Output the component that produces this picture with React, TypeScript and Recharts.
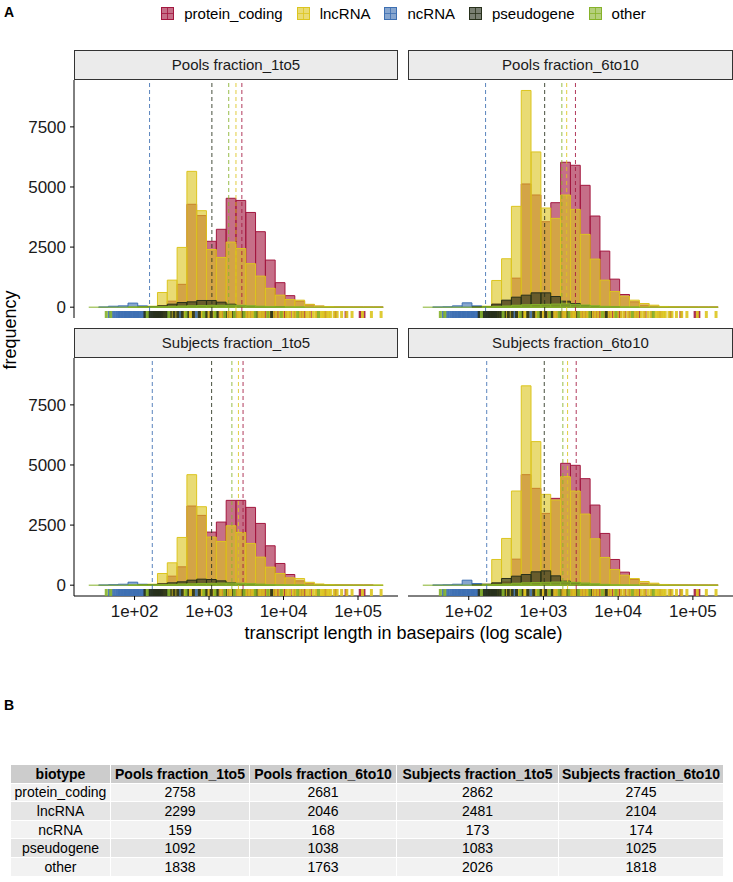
import React from 'react'
import { ComposedChart, Bar, XAxis, YAxis, ReferenceLine, Scatter } from 'recharts'

const FONT = '"Liberation Sans", Arial, Helvetica, sans-serif'

const BIOTYPES = ['protein_coding', 'lncRNA', 'ncRNA', 'pseudogene', 'other']
const COLORS = ['#A3173F', '#DCC51F', '#3D6FB2', '#27301B', '#86B22A']
const PANELS = ['Pools fraction_1to5', 'Pools fraction_6to10', 'Subjects fraction_1to5', 'Subjects fraction_6to10']

// histogram bin mids, log10 of transcript length (30 bins)
const BIN_MIDS = [
  1.4509, 1.5827, 1.7145, 1.8463, 1.9781, 2.1099, 2.2417, 2.3735, 2.5053, 2.6371,
  2.7689, 2.9007, 3.0325, 3.1643, 3.2961, 3.4279, 3.5597, 3.6915, 3.8233, 3.9551,
  4.0869, 4.2187, 4.3505, 4.4823, 4.6141, 4.7459, 4.8777, 5.0095, 5.1413, 5.2731,
]

// counts per bin
const PC_P15 = [0, 0, 0, 0, 0, 0, 10, 60, 250, 950, 4280, 3810, 2740, 3240, 4530, 4440, 3940, 3140, 1960, 1020, 480, 250, 100, 40, 15, 8, 4, 2, 1, 1]
const LNC_P15 = [0, 0, 0, 0, 0, 5, 40, 611, 1125, 2486, 5650, 4014, 2400, 2069, 2708, 2440, 1810, 1292, 785, 500, 320, 292, 120, 50, 25, 10, 5, 3, 1, 1]
const NC_P15 = [0, 5, 40, 55, 170, 55, 20, 8, 5, 3, 2, 1, 0, 0, 0, 0, 0, 0, 0, 0, 0, 0, 0, 0, 0, 0, 0, 0, 0, 0]
const PS_P15 = [0, 0, 0, 0, 0, 5, 20, 56, 125, 194, 222, 278, 278, 208, 125, 70, 30, 12, 5, 2, 0, 0, 0, 0, 0, 0, 0, 0, 0, 0]
const OT_P15 = [0, 0, 0, 0, 3, 5, 10, 20, 35, 50, 60, 70, 75, 80, 85, 75, 60, 40, 25, 12, 6, 3, 0, 0, 0, 0, 0, 0, 0, 0]

const PC_P610 = [0, 0, 0, 0, 0, 0, 15, 125, 264, 1208, 5125, 4667, 3556, 4347, 6028, 5903, 5069, 3792, 2333, 1167, 528, 222, 83, 40, 20, 8, 4, 2, 1, 1]
const LNC_P610 = [0, 0, 0, 0, 0, 10, 40, 1111, 2014, 4194, 9014, 6458, 4125, 3694, 4667, 4069, 3028, 2000, 1125, 653, 458, 292, 153, 83, 30, 12, 5, 3, 1, 1]
const NC_P610 = [0, 5, 15, 55, 181, 55, 28, 10, 5, 3, 1, 0, 0, 0, 0, 0, 0, 0, 0, 0, 0, 0, 0, 0, 0, 0, 0, 0, 0, 0]
const PS_P610 = [0, 0, 0, 0, 0, 8, 25, 125, 292, 417, 500, 597, 597, 444, 250, 153, 69, 30, 10, 4, 0, 0, 0, 0, 0, 0, 0, 0, 0, 0]
const OT_P610 = [0, 0, 0, 0, 0, 0, 15, 30, 50, 80, 100, 110, 120, 130, 140, 120, 90, 60, 35, 15, 8, 3, 0, 0, 0, 0, 0, 0, 0, 0]

const PC_S15 = [0, 0, 0, 0, 0, 0, 10, 60, 375, 764, 3292, 2903, 2208, 2625, 3528, 3528, 3236, 2569, 1639, 903, 444, 181, 60, 25, 10, 5, 3, 1, 1, 0]
const LNC_S15 = [0, 0, 0, 0, 0, 5, 40, 486, 931, 1986, 4597, 3264, 2000, 1819, 2472, 2194, 1736, 1167, 750, 486, 306, 278, 120, 50, 25, 10, 5, 3, 1, 1]
const NC_S15 = [0, 5, 20, 40, 125, 40, 20, 8, 4, 2, 0, 0, 0, 0, 0, 0, 0, 0, 0, 0, 0, 0, 0, 0, 0, 0, 0, 0, 0, 0]
const PS_S15 = [0, 0, 0, 0, 0, 5, 20, 55, 97, 139, 208, 250, 236, 180, 97, 40, 20, 8, 3, 0, 0, 0, 0, 0, 0, 0, 0, 0, 0, 0]
const OT_S15 = [0, 0, 0, 0, 3, 5, 10, 20, 35, 50, 60, 70, 75, 85, 90, 80, 65, 45, 25, 12, 6, 3, 0, 0, 0, 0, 0, 0, 0, 0]

const PC_S610 = [0, 0, 0, 0, 0, 0, 15, 80, 130, 1083, 4597, 4028, 2986, 3611, 5069, 4986, 4431, 3333, 2153, 1069, 542, 240, 80, 40, 20, 8, 4, 2, 1, 1]
const LNC_S610 = [0, 0, 0, 0, 0, 10, 40, 1069, 1944, 3917, 8292, 5972, 3778, 3542, 4514, 3917, 2958, 1931, 1153, 653, 417, 278, 153, 83, 30, 12, 5, 3, 1, 1]
const NC_S610 = [0, 5, 15, 40, 208, 69, 20, 8, 4, 2, 0, 0, 0, 0, 0, 0, 0, 0, 0, 0, 0, 0, 0, 0, 0, 0, 0, 0, 0, 0]
const PS_S610 = [0, 0, 0, 0, 0, 8, 40, 97, 278, 375, 444, 556, 597, 389, 167, 97, 40, 15, 5, 0, 0, 0, 0, 0, 0, 0, 0, 0, 0, 0]
const OT_S610 = [0, 0, 0, 0, 0, 0, 15, 30, 50, 80, 100, 110, 120, 130, 140, 120, 90, 60, 35, 15, 8, 3, 0, 0, 0, 0, 0, 0, 0, 0]

// median lengths (table B), one per panel
const MEDIAN_PROTEIN_CODING = [2758, 2681, 2862, 2745]
const MEDIAN_LNCRNA = [2299, 2046, 2481, 2104]
const MEDIAN_NCRNA = [159, 168, 173, 174]
const MEDIAN_PSEUDOGENE = [1092, 1038, 1083, 1025]
const MEDIAN_OTHER = [1838, 1763, 2026, 1818]

// rug ticks, log10 length
const RUG_PROTEIN_CODING = [2.49, 2.58, 2.63, 2.66, 2.71, 2.74, 2.79, 2.83, 2.87, 2.9, 2.94, 2.97, 3.01, 3.03, 3.05, 3.08, 3.11, 3.14, 3.16, 3.18, 3.22, 3.24, 3.26, 3.29, 3.31, 3.33, 3.37, 3.4, 3.42, 3.44, 3.48, 3.5, 3.52, 3.56, 3.59, 3.61, 3.63, 3.67, 3.71, 3.73, 3.76, 3.8, 3.84, 3.87, 3.89, 3.93, 3.98, 4.01, 4.03, 4.09, 4.15, 4.21, 4.25, 4.28, 4.36, 4.45, 4.56, 4.7, 4.84, 5.03, 5.08]
const RUG_LNCRNA = [2.28, 2.32, 2.35, 2.37, 2.4, 2.43, 2.45, 2.47, 2.5, 2.52, 2.55, 2.57, 2.59, 2.62, 2.64, 2.67, 2.69, 2.7, 2.73, 2.76, 2.78, 2.81, 2.84, 2.86, 2.88, 2.91, 2.94, 2.96, 2.99, 3.03, 3.07, 3.09, 3.12, 3.16, 3.2, 3.24, 3.28, 3.31, 3.35, 3.39, 3.42, 3.46, 3.5, 3.54, 3.58, 3.61, 3.65, 3.69, 3.73, 3.78, 3.82, 3.86, 3.9, 3.95, 3.99, 4.04, 4.08, 4.13, 4.17, 4.22, 4.26, 4.31, 4.35, 4.4, 4.44, 4.49, 4.52, 4.54, 4.58, 4.61, 4.63, 4.68, 4.72, 4.78, 4.85, 4.92, 5.06, 5.18, 5.31]
const RUG_NCRNA = [1.66, 1.71, 1.74, 1.77, 1.79, 1.81, 1.83, 1.85, 1.87, 1.88, 1.9, 1.92, 1.93, 1.95, 1.97, 1.99, 2.0, 2.02, 2.04, 2.05, 2.07, 2.09, 2.11, 2.13, 2.16, 2.19, 2.23, 2.27, 2.34, 2.45, 2.61, 2.83]
const RUG_PSEUDOGENE = [2.14, 2.19, 2.22, 2.25, 2.27, 2.29, 2.31, 2.32, 2.34, 2.36, 2.38, 2.41, 2.44, 2.48, 2.53, 2.58, 2.64, 2.71, 2.79, 2.87, 2.96, 3.03, 3.11, 3.22, 3.33, 3.46, 3.63, 3.84]
const RUG_OTHER = [1.62, 1.68, 2.17, 2.46, 2.69, 2.93, 3.08, 3.21, 3.34, 3.47, 3.62, 3.79, 3.97, 4.19, 4.47]

const COUNTS = [
  [PC_P15, LNC_P15, NC_P15, PS_P15, OT_P15],
  [PC_P610, LNC_P610, NC_P610, PS_P610, OT_P610],
  [PC_S15, LNC_S15, NC_S15, PS_S15, OT_S15],
  [PC_S610, LNC_S610, NC_S610, PS_S610, OT_S610],
]
const MEDIANS = [MEDIAN_PROTEIN_CODING, MEDIAN_LNCRNA, MEDIAN_NCRNA, MEDIAN_PSEUDOGENE, MEDIAN_OTHER]
const RUGS = [RUG_PROTEIN_CODING, RUG_LNCRNA, RUG_NCRNA, RUG_PSEUDOGENE, RUG_OTHER]

const X_MIN = 1.187
const X_MAX = 5.537
const X_TICKS = [2, 3, 4, 5]
const Y_MIN = -450
const Y_MAX = 9450
const Y_TICKS = [0, 2500, 5000, 7500]

const PLOT_H = 238
const Y_AXIS_W = 74
const X_AXIS_H = 34
const RUG_LEN = 7
const FILL_OPACITY = 0.62

const fmtLog = (v: number) => `1e+${String(v).padStart(2, '0')}`

interface PanelProps {
  index: number
  left: number
  top: number
  plotW: number
  showX: boolean
  showY: boolean
}

function Panel({ index, left, top, plotW, showX, showY }: PanelProps) {
  const rows = BIN_MIDS.map((x, i) => {
    const row: Record<string, number> = { x }
    BIOTYPES.forEach((b, j) => {
      row[b] = COUNTS[index][j][i]
    })
    return row
  })
  const binW = BIN_MIDS[1] - BIN_MIDS[0]
  const barSize = (plotW * binW) / (X_MAX - X_MIN) - 0.1
  const tickStyle = { fill: '#1a1a1a', fontSize: 17, fontFamily: FONT }

  return (
    <div style={{ position: 'absolute', left, top }}>
      <ComposedChart
        width={plotW + (showY ? Y_AXIS_W : 0)}
        height={PLOT_H + (showX ? X_AXIS_H : 0)}
        data={rows}
        margin={{ top: 0, right: 0, bottom: 0, left: 0 }}
        barCategoryGap={0}
        barGap={0}
      >
        <XAxis
          xAxisId="main"
          type="number"
          dataKey="x"
          domain={[X_MIN, X_MAX]}
          allowDataOverflow
          ticks={X_TICKS}
          interval={0}
          tickFormatter={fmtLog}
          hide={!showX}
          height={X_AXIS_H}
          stroke="#000"
          tickSize={4}
          tickMargin={5}
          tick={tickStyle}
        />
        {BIOTYPES.map((b) => (
          <XAxis key={b} xAxisId={b} type="number" dataKey="x" domain={[X_MIN, X_MAX]} allowDataOverflow height={0} hide />
        ))}
        <YAxis
          type="number"
          domain={[Y_MIN, Y_MAX]}
          allowDataOverflow
          ticks={Y_TICKS}
          interval={0}
          hide={!showY}
          width={Y_AXIS_W}
          stroke="#000"
          tickSize={4}
          tickMargin={4}
          tick={tickStyle}
        />
        {BIOTYPES.map((b, j) => (
          <Bar
            key={b}
            xAxisId={b}
            dataKey={b}
            barSize={barSize}
            fill={COLORS[j]}
            fillOpacity={FILL_OPACITY}
            stroke={COLORS[j]}
            strokeWidth={1}
            isAnimationActive={false}
          />
        ))}
        <ReferenceLine
          xAxisId="main"
          segment={[
            { x: BIN_MIDS[0] - binW / 2, y: 0 },
            { x: BIN_MIDS[BIN_MIDS.length - 1] + binW / 2, y: 0 },
          ]}
          stroke={COLORS[4]}
          strokeWidth={1}
        />
        {MEDIANS.map((m, j) => (
          <ReferenceLine
            key={BIOTYPES[j]}
            xAxisId="main"
            x={Math.log10(m[index])}
            stroke={COLORS[j]}
            strokeOpacity={0.85}
            strokeWidth={1}
            strokeDasharray="4 3"
          />
        ))}
        {RUGS.map((r, j) => (
          <Scatter
            key={BIOTYPES[j]}
            xAxisId="main"
            data={r.map((x) => ({ x, y: Y_MIN }))}
            dataKey="y"
            isAnimationActive={false}
            shape={(p: any) => (
              <line
                x1={p.cx}
                x2={p.cx}
                y1={p.cy}
                y2={p.cy - RUG_LEN}
                stroke={COLORS[j]}
                strokeOpacity={0.9}
                strokeWidth={3}
              />
            )}
          />
        ))}
      </ComposedChart>
    </div>
  )
}

function Strip({ label, left, top, width }: { label: string; left: number; top: number; width: number }) {
  return (
    <div
      style={{
        position: 'absolute',
        left,
        top,
        width,
        height: 30,
        boxSizing: 'border-box',
        border: '1px solid #333',
        background: '#EBEBEB',
        textAlign: 'center',
        lineHeight: '28px',
        fontSize: 15,
        color: '#1a1a1a',
      }}
    >
      {label}
    </div>
  )
}

function LegendKey({ color }: { color: string }) {
  return (
    <svg width={13} height={13} style={{ display: 'block' }}>
      <rect x={0.5} y={0.5} width={12} height={12} fill={color} fillOpacity={FILL_OPACITY} stroke={color} />
      <line x1={6.5} x2={6.5} y1={0.5} y2={12.5} stroke={color} strokeWidth={0.8} />
      <line x1={0.5} x2={12.5} y1={6.5} y2={6.5} stroke={color} strokeWidth={0.8} />
    </svg>
  )
}

const TABLE_COLS = [100, 139, 147, 162, 165]

export default function App() {
  const tableRows = BIOTYPES.map((b, j) => [b, ...MEDIANS[j].map(String)])
  return (
    <div
      style={{
        position: 'absolute',
        left: 0,
        top: 0,
        width: 733,
        height: 882,
        background: '#fff',
        fontFamily: FONT,
        color: '#000',
        overflow: 'hidden',
      }}
    >
      <div style={{ position: 'absolute', left: 4, top: 4, fontWeight: 700, fontSize: 14 }}>A</div>

      <div
        style={{
          position: 'absolute',
          left: 74,
          top: 5,
          width: 659,
          display: 'flex',
          justifyContent: 'center',
          alignItems: 'center',
          fontSize: 15,
        }}
      >
        {BIOTYPES.map((b, j) => (
          <div key={b} style={{ display: 'flex', alignItems: 'center', marginRight: j < 4 ? 14 : 0 }}>
            <LegendKey color={COLORS[j]} />
            <span style={{ marginLeft: 10 }}>{b}</span>
          </div>
        ))}
      </div>

      <Strip label={PANELS[0]} left={74} top={50} width={324} />
      <Strip label={PANELS[1]} left={408} top={50} width={325} />
      <Strip label={PANELS[2]} left={74} top={328} width={324} />
      <Strip label={PANELS[3]} left={408} top={328} width={325} />

      <Panel index={0} left={0} top={80} plotW={324} showX={false} showY />
      <Panel index={1} left={408} top={80} plotW={325} showX={false} showY={false} />
      <Panel index={2} left={0} top={358} plotW={324} showX showY />
      <Panel index={3} left={408} top={358} plotW={325} showX showY={false} />

      <div
        style={{
          position: 'absolute',
          left: 10,
          top: 330,
          transform: 'translate(-50%, -50%) rotate(-90deg)',
          fontSize: 18,
          whiteSpace: 'nowrap',
        }}
      >
        frequency
      </div>
      <div style={{ position: 'absolute', left: 74, top: 623, width: 659, textAlign: 'center', fontSize: 18 }}>
        transcript length in basepairs (log scale)
      </div>

      <div style={{ position: 'absolute', left: 4, top: 697, fontWeight: 700, fontSize: 14 }}>B</div>

      <table
        style={{
          position: 'absolute',
          left: 10,
          top: 764,
          borderCollapse: 'collapse',
          fontSize: 14,
          lineHeight: '16px',
          tableLayout: 'fixed',
          width: TABLE_COLS.reduce((a, c) => a + c, 0),
        }}
      >
        <colgroup>
          {TABLE_COLS.map((w, i) => (
            <col key={i} style={{ width: w }} />
          ))}
        </colgroup>
        <thead>
          <tr style={{ background: '#CCCCCC', height: 18.6 }}>
            {['biotype', ...PANELS].map((h) => (
              <th key={h} style={{ fontWeight: 700, padding: 0, border: '1px solid #fff', whiteSpace: 'nowrap' }}>
                {h}
              </th>
            ))}
          </tr>
        </thead>
        <tbody>
          {tableRows.map((r, i) => (
            <tr key={r[0]} style={{ background: i % 2 === 0 ? '#F2F2F2' : '#E5E5E5', height: 18.6 }}>
              {r.map((c, k) => (
                <td key={k} style={{ textAlign: 'center', padding: 0, border: '1px solid #fff' }}>
                  {c}
                </td>
              ))}
            </tr>
          ))}
        </tbody>
      </table>
    </div>
  )
}
